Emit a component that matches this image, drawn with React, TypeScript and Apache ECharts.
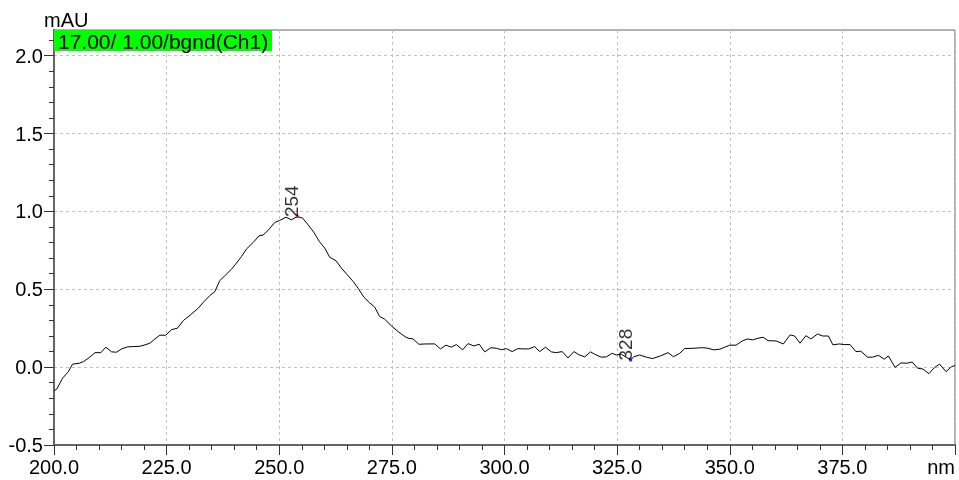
import React, { useEffect, useRef } from "react";
import * as echarts from "echarts";

// Spectrum of channel 1 (wavelength in nm, absorbance in mAU)
const wavelengths = [
  200.0, 200.6, 201.9, 203.2, 204.1, 205.6, 206.5, 207.8, 209.1, 210.4,
  211.5, 212.8, 213.9, 215.0, 216.3, 217.6, 219.1, 220.2, 221.3, 222.4,
  223.5, 224.8, 226.1, 227.4, 228.7, 230.2, 232.0, 233.3, 234.6, 235.7,
  236.8, 237.9, 239.4, 240.2, 241.6, 242.7, 244.2, 245.5, 246.4, 247.5,
  249.0, 250.1, 251.5, 252.7, 254.0, 255.2, 256.4, 257.7, 258.9, 260.1,
  261.2, 262.6, 263.8, 265.1, 266.4, 267.5, 268.8, 270.0, 271.2, 272.3,
  273.4, 274.9, 276.4, 277.9, 278.6, 279.7, 281.0, 282.7, 284.5, 285.8,
  287.0, 288.2, 289.3, 290.7, 291.9, 293.2, 294.4, 295.6, 297.0, 298.2,
  299.3, 300.4, 301.7, 303.0, 304.1, 305.4, 306.7, 307.8, 309.1, 310.4,
  311.5, 312.8, 314.1, 315.4, 316.5, 317.8, 319.1, 320.0, 321.5, 322.6,
  323.9, 324.8, 325.9, 327.0, 328.0, 328.7, 330.0, 331.5, 332.9, 334.6,
  336.3, 337.5, 338.9, 340.0, 341.8, 344.0, 345.2, 346.4, 347.8, 348.9,
  350.0, 351.4, 352.9, 354.0, 355.1, 356.3, 357.4, 358.5, 360.3, 361.9,
  363.4, 364.4, 365.6, 366.9, 368.0, 369.5, 370.6, 371.9, 372.9, 374.3,
  375.4, 376.7, 378.0, 379.1, 380.6, 381.7, 383.0, 384.3, 385.2, 386.7,
  388.0, 389.3, 390.5, 391.7, 392.9, 394.2, 395.5, 396.6, 398.0, 399.2,
  400.0,
];

const absorbance = [
  -0.151, -0.142, -0.071, -0.029, 0.019, 0.025, 0.035, 0.061, 0.093, 0.093,
  0.128, 0.098, 0.096, 0.117, 0.13, 0.132, 0.134, 0.143, 0.154, 0.181,
  0.205, 0.205, 0.241, 0.25, 0.299, 0.333, 0.378, 0.421, 0.46, 0.485,
  0.556, 0.586, 0.629, 0.657, 0.71, 0.758, 0.8, 0.843, 0.848, 0.877,
  0.929, 0.942, 0.963, 0.946, 0.967, 0.957, 0.914, 0.865, 0.807, 0.764,
  0.706, 0.683, 0.636, 0.593, 0.55, 0.507, 0.449, 0.415, 0.385, 0.325,
  0.308, 0.265, 0.228, 0.196, 0.186, 0.181, 0.147, 0.149, 0.149, 0.117,
  0.141, 0.128, 0.145, 0.111, 0.151, 0.136, 0.147, 0.098, 0.125, 0.121,
  0.112, 0.119, 0.1, 0.119, 0.117, 0.117, 0.132, 0.1, 0.128, 0.098,
  0.093, 0.1, 0.059, 0.1, 0.08, 0.066, 0.098, 0.083, 0.064, 0.066,
  0.089, 0.078, 0.083, 0.064, 0.046, 0.067, 0.078, 0.064, 0.055, 0.072,
  0.093, 0.067, 0.089, 0.119, 0.121, 0.125, 0.121, 0.111, 0.115, 0.128,
  0.141, 0.141, 0.17, 0.181, 0.175, 0.186, 0.192, 0.17, 0.168, 0.149,
  0.207, 0.2, 0.154, 0.202, 0.181, 0.213, 0.2, 0.2, 0.143, 0.149,
  0.145, 0.145, 0.1, 0.102, 0.064, 0.064, 0.076, 0.051, 0.072, -0.001,
  0.027, 0.025, 0.033, -0.007, -0.012, -0.042, -0.001, 0.019, -0.029, 0.003,
  0.01,
];

// Labelled points of the spectrum (wavelength) and their marker colours
const peakWavelengths = [254.0, 328.0];
const peakColors = ["#ff0000", "#0000ff"];

// Axis ranges and tick steps
const xMin = 200;
const xMax = 400;
const xStep = 25;
const yMin = -0.5;
const yMax = 2.165;
const yStep = 0.5;
const yMajorTicks = [-0.5, 0.0, 0.5, 1.0, 1.5, 2.0];

const unitLabel = "mAU";
const axisUnit = "nm";
const traceLabel = "17.00/ 1.00/bgnd(Ch1)";

const FONT = "'Liberation Sans', Arial, Helvetica, sans-serif";

export default function App() {
  const ref = useRef<HTMLDivElement>(null);

  useEffect(() => {
    if (!ref.current) return;
    const chart = echarts.init(ref.current, null, { renderer: "svg" });

    const lineData = wavelengths.map((w, i) => [w, absorbance[i]]);
    const markData = peakWavelengths.map((w, k) => {
      const i = wavelengths.indexOf(w);
      return { value: [w, absorbance[i]], itemStyle: { color: peakColors[k] } };
    });

    const isMajorY = (v: number) =>
      yMajorTicks.some((t) => Math.abs(t - v) < 1e-6);

    chart.setOption({
      animation: false,
      grid: {
        left: 54,
        right: 4,
        top: 30,
        bottom: 35,
        show: true,
        borderColor: "#666",
        borderWidth: 1,
        backgroundColor: "transparent",
      },
      xAxis: {
        type: "value",
        min: xMin,
        max: xMax,
        interval: xStep,
        axisLine: { show: true, onZero: false, lineStyle: { color: "#666", width: 2 } },
        axisTick: { show: true, length: 10, lineStyle: { color: "#333" } },
        minorTick: { show: true, splitNumber: 5, length: 5, lineStyle: { color: "#333" } },
        splitLine: {
          show: true,
          lineStyle: { color: "#c0c0c0", type: [3, 3], width: 1 },
        },
        axisLabel: {
          color: "#000",
          fontSize: 20,
          fontFamily: FONT,
          margin: 12,
          alignMaxLabel: "right",
          formatter: (v: number) => (v === xMax ? axisUnit : v.toFixed(1)),
        },
      },
      yAxis: [
        {
          // fine ticks every 0.1 with the value labels
          type: "value",
          min: yMin,
          max: yMax,
          interval: 0.1,
          axisLine: { show: true, onZero: false, lineStyle: { color: "#666", width: 2 } },
          axisTick: { show: true, length: 5, lineStyle: { color: "#333" } },
          splitLine: { show: false },
          axisLabel: {
            color: "#000",
            fontSize: 20,
            fontFamily: FONT,
            margin: 11,
            showMaxLabel: false,
            formatter: (v: number) => (isMajorY(v) ? v.toFixed(1) : ""),
          },
        },
        {
          // major ticks and dashed grid every 0.5
          type: "value",
          min: yMin,
          max: yMax,
          interval: yStep,
          position: "left",
          axisLine: { show: false, onZero: false },
          axisTick: {
            show: true,
            length: 10,
            lineStyle: { color: "#333" },
            customValues: yMajorTicks,
          },
          axisLabel: { show: false },
          splitLine: {
            show: true,
            lineStyle: { color: "#c0c0c0", type: [3, 3], width: 1 },
          },
        },
      ],
      series: [
        {
          type: "line",
          data: lineData,
          yAxisIndex: 0,
          showSymbol: false,
          symbol: "none",
          lineStyle: { color: "#000", width: 1 },
          silent: true,
          z: 2,
        },
        {
          type: "scatter",
          data: markData,
          yAxisIndex: 0,
          symbol: "rect",
          symbolSize: 3,
          silent: true,
          z: 3,
          label: {
            show: true,
            position: "top",
            distance: 0,
            offset: [-2, 4],
            rotate: 90,
            align: "left",
            verticalAlign: "bottom",
            color: "#000",
            fontSize: 19,
            fontFamily: FONT,
            formatter: (p: any) => String(Math.round(p.value[0])),
          },
        },
      ],
      graphic: [
        {
          type: "text",
          x: 44,
          y: 20,
          style: {
            text: unitLabel,
            fill: "#000",
            fontSize: 20,
            fontFamily: FONT,
            verticalAlign: "middle",
          },
        },
        {
          type: "rect",
          z: 10,
          shape: { x: 54, y: 30, width: 218, height: 21 },
          style: { fill: "#00ff00" },
        },
        {
          type: "text",
          z: 11,
          x: 58,
          y: 41,
          style: {
            text: traceLabel,
            fill: "#000",
            fontSize: 21,
            fontFamily: FONT,
            verticalAlign: "middle",
          },
        },
      ],
    });

    return () => chart.dispose();
  }, []);

  return (
    <div
      ref={ref}
      style={{ position: "fixed", left: 0, top: 0, width: 959, height: 480 }}
    />
  );
}
